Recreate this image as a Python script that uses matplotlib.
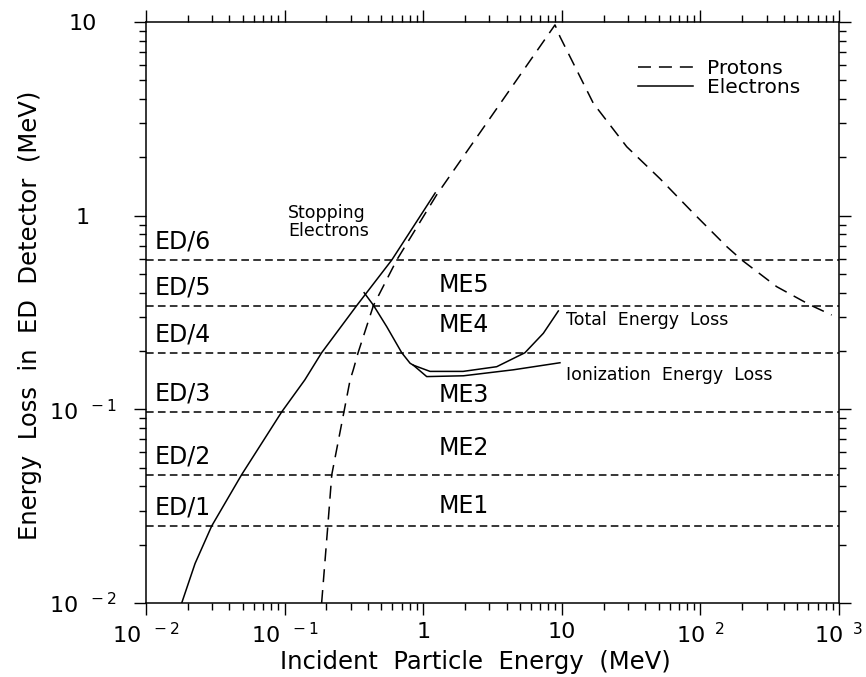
import matplotlib
matplotlib.use("Agg")
import matplotlib.pyplot as plt
import numpy as np
from matplotlib.ticker import FuncFormatter, LogLocator, NullFormatter

# ---- data ----
# protons: energy loss vs incident energy
proton_e = [0.185, 0.205, 0.219, 0.268, 0.297, 0.313, 0.339, 0.437, 0.644, 1.25, 8.93,
            9.70, 16.9, 29.4, 51.2, 89.0, 155, 199, 355, 618, 885]
proton_loss = [0.01, 0.025, 0.046, 0.097, 0.142, 0.160, 0.196, 0.343, 0.59, 1.28, 9.66,
               8.40, 3.80, 2.27, 1.55, 1.03, 0.692, 0.590, 0.430, 0.346, 0.307]

# stopping electrons
stop_e = [0.0181, 0.0226, 0.0298, 0.0490, 0.0953, 0.140, 0.185, 0.331, 0.593, 1.22]
stop_loss = [0.01, 0.016, 0.025, 0.046, 0.097, 0.142, 0.196, 0.343, 0.59, 1.31]

# penetrating electrons: total energy loss and ionization energy loss
total_e = [0.375, 0.436, 0.546, 0.700, 0.804, 0.849, 1.12, 1.94, 3.39, 5.42, 7.36, 9.44]
total_loss = [0.400, 0.346, 0.267, 0.196, 0.173, 0.169, 0.157, 0.157, 0.166, 0.196, 0.247, 0.322]
ion_e = [0.849, 1.06, 1.95, 4.47, 9.70]
ion_loss = [0.169, 0.1476, 0.149, 0.160, 0.174]

# ED discriminator levels
ed_levels = [0.025, 0.046, 0.097, 0.196, 0.343, 0.59]
ed_labels = ["ED/1", "ED/2", "ED/3", "ED/4", "ED/5", "ED/6"]

# ME channel labels
me_labels = ["ME1", "ME2", "ME3", "ME4", "ME5"]
me_y = [0.0315, 0.0632, 0.1186, 0.273, 0.438]
me_x = 1.30


def log_fmt(v, pos):
    e = int(round(np.log10(v)))
    if e == 0:
        return "1"
    if e == 1:
        return "10"
    sign = "-" if e < 0 else ""
    return r"$\mathregular{10^{\ \ %s%d}}$" % (sign, abs(e))


fig = plt.figure(figsize=(8.66, 6.77), dpi=100)
ax = fig.add_axes([146 / 866, 1 - 603 / 677, 693 / 866, 581 / 677])
ax.set_xscale("log")
ax.set_yscale("log")
ax.set_xlim(1e-2, 1e3)
ax.set_ylim(1e-2, 10)

lw = 1.1
for lev in ed_levels:
    ax.axhline(lev, color="black", linewidth=lw, dashes=(5, 2.8))

ax.plot(proton_e, proton_loss, color="black", linewidth=lw, dashes=(8.5, 5.2), label="Protons")
ax.plot(stop_e, stop_loss, color="black", linewidth=lw, label="Electrons")
ax.plot(total_e, total_loss, color="black", linewidth=lw)
ax.plot(ion_e, ion_loss, color="black", linewidth=lw)

# labels on the plot
for lev, lbl in zip(ed_levels, ed_labels):
    ax.annotate(lbl, xy=(0, lev), xycoords=("axes fraction", "data"),
                xytext=(6.5, 8), textcoords="offset points",
                va="baseline", ha="left", fontsize=17)
for y, lbl in zip(me_y, me_labels):
    ax.text(me_x, y, lbl, va="center", ha="left", fontsize=17)

ax.text(0.106, 0.928, "Stopping\nElectrons", va="center", ha="left",
        fontsize=12.5, linespacing=1.0)
ax.text(10.8, 0.290, "Total  Energy  Loss", va="center", ha="left", fontsize=12.5)
ax.text(10.8, 0.151, "Ionization  Energy  Loss", va="center", ha="left", fontsize=12.5)

ax.legend(loc="upper left", bbox_to_anchor=(0.710, 0.936), frameon=False,
          fontsize=14.5, handlelength=2.73, handletextpad=0.68, labelspacing=0.0,
          borderpad=0, borderaxespad=0)

# axes, ticks
for sp in ax.spines.values():
    sp.set_linewidth(1.1)
ax.xaxis.set_major_locator(LogLocator(base=10, numticks=10))
ax.yaxis.set_major_locator(LogLocator(base=10, numticks=10))
ax.xaxis.set_minor_locator(LogLocator(base=10, subs=np.arange(2, 10), numticks=20))
ax.yaxis.set_minor_locator(LogLocator(base=10, subs=np.arange(2, 10), numticks=20))
ax.xaxis.set_major_formatter(FuncFormatter(log_fmt))
ax.yaxis.set_major_formatter(FuncFormatter(log_fmt))
ax.xaxis.set_minor_formatter(NullFormatter())
ax.yaxis.set_minor_formatter(NullFormatter())
ax.tick_params(which="both", direction="out", top=True, right=True, width=1.0)
ax.tick_params(which="major", length=8.6, labelsize=16)
ax.tick_params(which="minor", length=5)
ax.tick_params(axis="x", which="major", pad=5)
ax.tick_params(axis="y", which="major", pad=37)
plt.setp(ax.get_yticklabels(), ha="center")

ax.set_xlabel("Incident  Particle  Energy  (MeV)", fontsize=17.5)
ax.xaxis.set_label_coords(0.476, -0.081)
ax.set_ylabel("Energy  Loss  in  ED  Detector  (MeV)", fontsize=17.5)
ax.yaxis.set_label_coords(-0.150, 0.496)

fig.savefig("out.png", dpi=100)
